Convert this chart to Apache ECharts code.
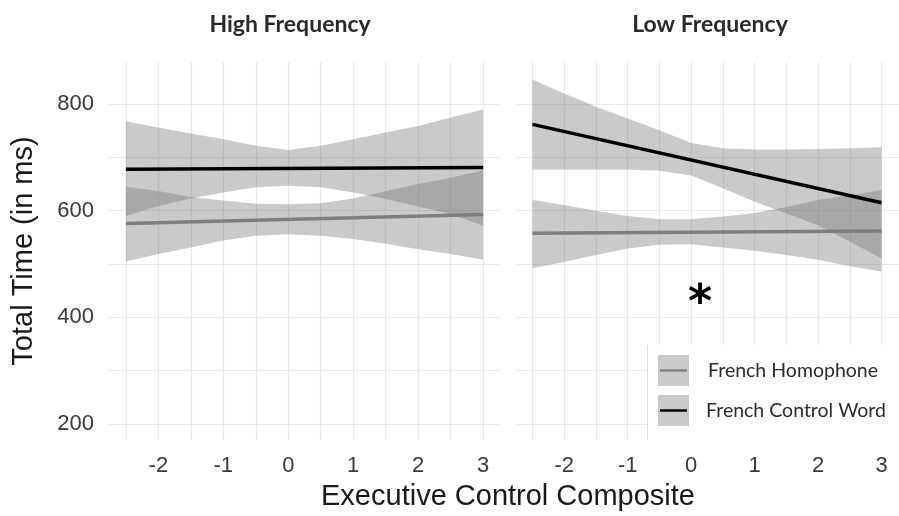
<!DOCTYPE html>
<html lang="en">
<head>
    <meta charset="UTF-8">
    <title>Total Time by Executive Control</title>
    <script src="https://cdn.jsdelivr.net/npm/echarts@6/dist/echarts.min.js"></script>
    <style>
        html, body { margin: 0; padding: 0; background: #fff; }
        #chart { width: 899px; height: 516px; }
    </style>
</head>
<body>
    <div id="chart"></div>
    <script>
        var xs = [-2.5, -2, -1.5, -1, -0.5, 0, 0.5, 1, 1.5, 2, 2.5, 3];
        var lineX = [-2.5, 3];

        // High Frequency panel
        var hiCtrlUpper = [768, 756, 745, 734, 722, 714, 722, 734, 747, 759, 775, 790];
        var hiCtrlLower = [590, 609, 623, 634, 644, 647, 644, 634, 622, 608, 594, 572];
        var hiHomoUpper = [645, 637, 626, 619, 613, 612, 614, 623, 637, 650, 662, 676];
        var hiHomoLower = [505, 519, 531, 544, 553, 556, 553, 547, 538, 528, 519, 508];
        var hiCtrlLine = [678, 681];
        var hiHomoLine = [576, 593];

        // Low Frequency panel
        var loCtrlUpper = [846, 820, 795, 773, 751, 727, 717, 715, 715, 716, 717, 719];
        var loCtrlLower = [677, 677, 677, 677, 675, 666, 642, 617, 595, 573, 542, 511];
        var loHomoUpper = [620, 611, 600, 590, 584, 584, 589, 596, 607, 620, 629, 639];
        var loHomoLower = [492, 504, 517, 529, 536, 537, 531, 525, 517, 508, 496, 486];
        var loCtrlLine = [762, 615];
        var loHomoLine = [558, 562];

        var xTicks = [-2.5, -2, -1.5, -1, -0.5, 0, 0.5, 1, 1.5, 2, 2.5, 3];
        var xLabels = [-2, -1, 0, 1, 2, 3];
        var yTicks = [200, 300, 400, 500, 600, 700, 800];
        var yLabels = [200, 400, 600, 800];

        var bandColor = 'rgba(110,110,110,0.37)';
        var gridColor = '#e8e8e8';
        var axisFont = 'Liberation Sans';

        function pairs(x, y) {
            return x.map(function (v, i) { return [v, y[i]]; });
        }

        // ribbon drawn as one polygon: upper edge left->right, lower edge back
        function band(idx, lower, upper) {
            return {
                type: 'custom', xAxisIndex: idx, yAxisIndex: idx,
                data: xs.map(function (x, i) { return [x, lower[i], upper[i]]; }),
                encode: { x: 0, y: [1, 2] },
                silent: true, z: 1,
                renderItem: function (params, api) {
                    if (params.dataIndex !== 0) return;
                    var pts = [];
                    var i;
                    for (i = 0; i < xs.length; i++) pts.push(api.coord([xs[i], upper[i]]));
                    for (i = xs.length - 1; i >= 0; i--) pts.push(api.coord([xs[i], lower[i]]));
                    return {
                        type: 'polygon',
                        shape: { points: pts },
                        style: { fill: bandColor, stroke: null }
                    };
                }
            };
        }

        function fit(idx, y, color) {
            return {
                type: 'line', xAxisIndex: idx, yAxisIndex: idx,
                data: pairs(lineX, y), symbol: 'none',
                lineStyle: { color: color, width: 3.5 }, z: 3
            };
        }

        function xAxis(idx) {
            return {
                type: 'value', gridIndex: idx, min: -2.775, max: 3.275,
                axisLine: { show: false },
                axisTick: { show: false, customValues: xTicks },
                axisLabel: {
                    customValues: xLabels, margin: 15,
                    fontFamily: axisFont, fontSize: 22, color: '#3a3a3a'
                },
                splitLine: { show: true, lineStyle: { color: gridColor, width: 1.2 } }
            };
        }

        function yAxis(idx) {
            return {
                type: 'value', gridIndex: idx, min: 170, max: 879,
                axisLine: { show: false },
                axisTick: { show: false, customValues: yTicks },
                axisLabel: {
                    show: idx === 0, customValues: yLabels, margin: 14,
                    fontFamily: axisFont, fontSize: 22, color: '#3a3a3a'
                },
                splitLine: { show: true, lineStyle: { color: gridColor, width: 1.2 } }
            };
        }

        var series = [
            band(0, hiCtrlLower, hiCtrlUpper),
            band(0, hiHomoLower, hiHomoUpper),
            band(1, loCtrlLower, loCtrlUpper),
            band(1, loHomoLower, loHomoUpper),
            fit(0, hiHomoLine, '#7f7f7f'),
            fit(0, hiCtrlLine, '#000000'),
            fit(1, loHomoLine, '#7f7f7f'),
            fit(1, loCtrlLine, '#000000')
        ];

        var legendFont = 'Lato';

        var myChart = echarts.init(document.getElementById('chart'));
        myChart.setOption({
            backgroundColor: '#ffffff',
            animation: false,
            grid: [
                { left: 108, top: 62, width: 393, height: 378 },
                { left: 515, top: 62, width: 393, height: 378 }
            ],
            xAxis: [xAxis(0), xAxis(1)],
            yAxis: [yAxis(0), yAxis(1)],
            series: series,
            graphic: [
                // panel strip titles
                { type: 'text', x: 290, y: 25, style: { text: 'High Frequency', fontFamily: legendFont, fontSize: 23, fontWeight: 'bold', fill: '#2a2a2a', align: 'center', verticalAlign: 'middle' } },
                { type: 'text', x: 710, y: 25, style: { text: 'Low Frequency', fontFamily: legendFont, fontSize: 23, fontWeight: 'bold', fill: '#2a2a2a', align: 'center', verticalAlign: 'middle' } },
                // axis titles
                { type: 'text', x: 508, y: 497, style: { text: 'Executive Control Composite', fontFamily: axisFont, fontSize: 29, fill: '#1a1a1a', align: 'center', verticalAlign: 'middle' } },
                { type: 'text', x: 24, y: 251, rotation: Math.PI / 2, style: { text: 'Total Time (in ms)', fontFamily: axisFont, fontSize: 29, fill: '#1a1a1a', align: 'center', verticalAlign: 'middle' } },
                // significance mark
                { type: 'text', x: 700, y: 305, z: 10, style: { text: '*', fontFamily: 'DejaVu Sans', fontSize: 46, fontWeight: 'bold', fill: '#000', align: 'center', verticalAlign: 'middle' } },
                // legend box
                { type: 'rect', z: 20, shape: { x: 647, y: 345, width: 260, height: 96 }, style: { fill: '#ffffff' } },
                { type: 'line', z: 21, shape: { x1: 647.5, y1: 345, x2: 647.5, y2: 440 }, style: { stroke: '#dddddd', lineWidth: 1 } },
                { type: 'rect', z: 21, shape: { x: 658, y: 355, width: 31, height: 31 }, style: { fill: '#c9c9c9' } },
                { type: 'line', z: 22, shape: { x1: 660, y1: 370.5, x2: 687, y2: 370.5 }, style: { stroke: '#828282', lineWidth: 2.5 } },
                { type: 'rect', z: 21, shape: { x: 658, y: 395, width: 31, height: 31 }, style: { fill: '#c9c9c9' } },
                { type: 'line', z: 22, shape: { x1: 660, y1: 410.5, x2: 687, y2: 410.5 }, style: { stroke: '#000000', lineWidth: 2.5 } },
                { type: 'text', z: 22, x: 708, y: 371, style: { text: 'French Homophone', fontFamily: legendFont, fontSize: 19.5, fill: '#2b2b2b', verticalAlign: 'middle' } },
                { type: 'text', z: 22, x: 706, y: 411, style: { text: 'French Control Word', fontFamily: legendFont, fontSize: 19.5, fill: '#2b2b2b', verticalAlign: 'middle' } }
            ]
        });
    </script>
</body>
</html>
